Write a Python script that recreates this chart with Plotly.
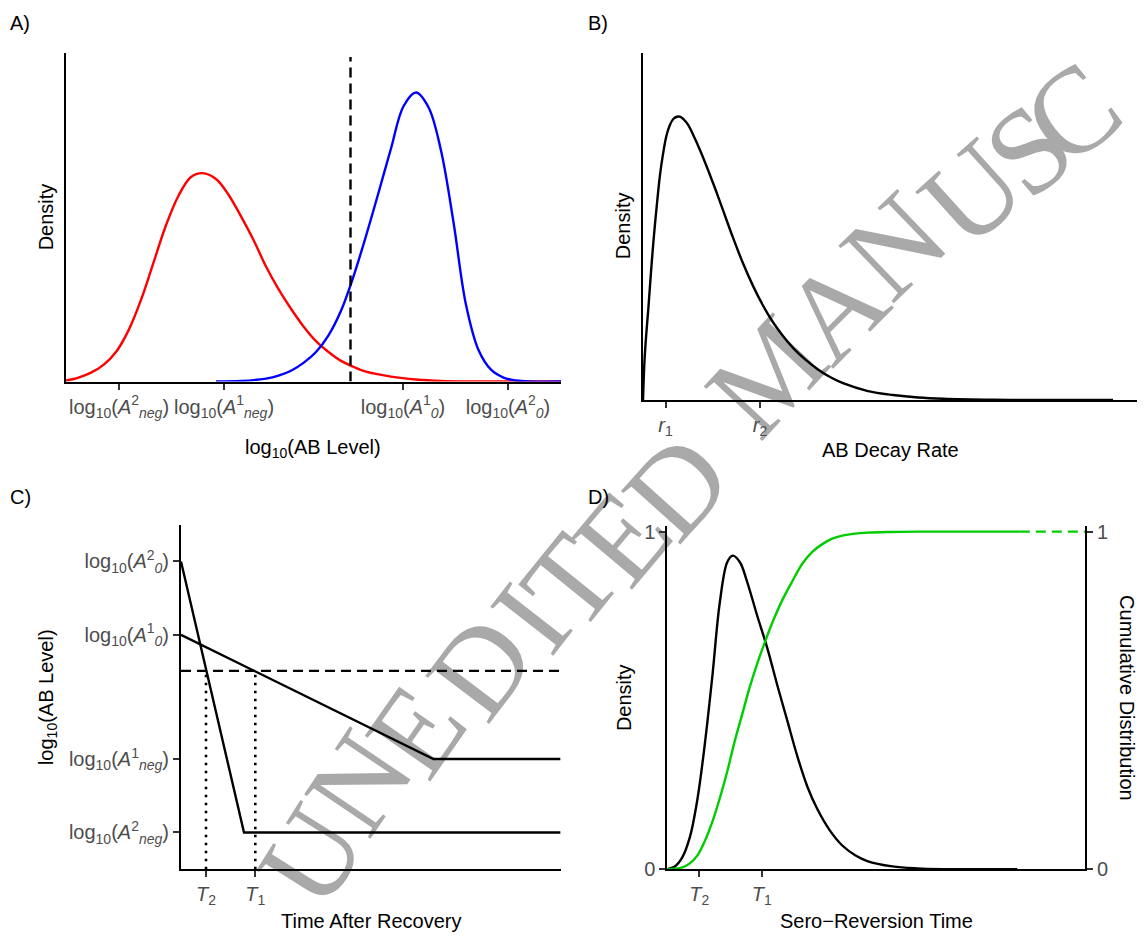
import plotly.graph_objects as go

W, H = 1144, 946
FONT = "Liberation Sans, Arial, Helvetica, sans-serif"
SERIF = "Liberation Serif, Times New Roman, serif"
TICKCOL = "#4D4D4D"

# ---------------- Panel A data ----------------
A_RED_X = [0, 0.25, 0.5, 0.75, 1.0, 1.25, 1.5, 1.75, 2.0, 2.25, 2.5, 2.73, 3.0, 3.25, 3.5, 3.75,
           4.0, 4.25, 4.5, 4.75, 5.0, 5.25, 5.5, 5.75, 6.0, 6.5, 7.0, 7.5, 8.0, 9.9]
A_RED_Y = [0.01, 0.04, 0.09, 0.17, 0.30, 0.52, 0.83, 1.21, 1.59, 1.89, 2.08, 2.12, 2.06, 1.90, 1.68, 1.44,
           1.17, 0.94, 0.74, 0.56, 0.41, 0.30, 0.21, 0.15, 0.10, 0.05, 0.02, 0.005, 0, 0]
A_BLUE_X = [3.0, 3.5, 4.0, 4.25, 4.5, 4.75, 5.0, 5.25, 5.5, 5.75, 6.0, 6.25, 6.5, 6.75, 7.0,
            7.25, 7.5, 7.75, 8.0, 8.25, 8.5, 8.75, 9.0, 9.25, 9.9]
A_BLUE_Y = [0, 0.005, 0.03, 0.06, 0.11, 0.19, 0.30, 0.47, 0.72, 1.07, 1.48, 1.92, 2.37, 2.80, 2.94,
            2.79, 2.35, 1.62, 0.78, 0.32, 0.12, 0.04, 0.01, 0, 0]
A_CUTOFF_X = 5.69
A_CUTOFF_TOP = 3.30
A_TICK_X = [1.06, 3.16, 6.74, 8.84]
A_TICK_TEXT = [
    "log<sub>10</sub>(<i>A</i><sup>2</sup><sub><i>neg</i></sub>)",
    "log<sub>10</sub>(<i>A</i><sup>1</sup><sub><i>neg</i></sub>)",
    "log<sub>10</sub>(<i>A</i><sup>1</sup><sub><i>0</i></sub>)",
    "log<sub>10</sub>(<i>A</i><sup>2</sup><sub><i>0</i></sub>)",
]

# ---------------- Panel B data ----------------
B_X = [0, 0.03, 0.07, 0.11, 0.16, 0.21, 0.28, 0.34, 0.40, 0.47, 0.54, 0.61, 0.68, 0.75, 0.82, 0.90,
       1.0, 1.15, 1.3, 1.45, 1.6, 1.8, 2.0, 2.2, 2.4, 2.6, 2.8, 3.0, 3.25, 3.5, 3.75, 4.0, 4.5,
       5.0, 5.5, 6.0, 7.0, 8.0, 9.4]
B_Y = [0, 0.40, 0.70, 0.95, 1.30, 1.62, 2.00, 2.29, 2.50, 2.69, 2.80, 2.86, 2.88, 2.88, 2.85, 2.80,
       2.70, 2.53, 2.34, 2.14, 1.93, 1.65, 1.39, 1.16, 0.96, 0.79, 0.65, 0.53, 0.41, 0.31, 0.23, 0.17, 0.09,
       0.05, 0.025, 0.012, 0.002, 0, 0]
B_TICK_X = [0.45, 2.34]
B_TICK_TEXT = ["<i>r</i><sub>1</sub>", "<i>r</i><sub>2</sub>"]

# ---------------- Panel C data ----------------
C_LINE1_X = [0, 5.05, 7.59]
C_LINE1_Y = [2.383, 1.12, 1.12]
C_LINE2_X = [0, 1.26, 7.59]
C_LINE2_Y = [3.13, 0.373, 0.373]
C_CUTOFF_Y = 2.017
C_T = [0.50, 1.486]
C_YTICK = [3.13, 2.383, 1.12, 0.373]
C_YTICK_TEXT = [
    "log<sub>10</sub>(<i>A</i><sup>2</sup><sub><i>0</i></sub>)",
    "log<sub>10</sub>(<i>A</i><sup>1</sup><sub><i>0</i></sub>)",
    "log<sub>10</sub>(<i>A</i><sup>1</sup><sub><i>neg</i></sub>)",
    "log<sub>10</sub>(<i>A</i><sup>2</sup><sub><i>neg</i></sub>)",
]
C_XTICK_TEXT = ["<i>T</i><sub>2</sub>", "<i>T</i><sub>1</sub>"]

# ---------------- Panel D data ----------------
D_DENS_X = [0, 0.15, 0.3, 0.45, 0.6, 0.75, 0.9, 1.05, 1.2, 1.31, 1.45, 1.6, 1.8, 2.0, 2.2, 2.4, 2.6,
            2.8, 3.0, 3.25, 3.5, 3.75, 4.0, 4.5, 5.0, 5.5, 7.0]
D_DENS_Y = [0, 0.008, 0.035, 0.094, 0.205, 0.37, 0.57, 0.79, 0.91, 0.929, 0.91, 0.85, 0.75, 0.655, 0.545,
            0.44, 0.335, 0.245, 0.178, 0.115, 0.07, 0.042, 0.024, 0.008, 0.002, 0, 0]
D_CDF_X = [0, 0.15, 0.3, 0.45, 0.6, 0.75, 0.9, 1.05, 1.2, 1.35, 1.5, 1.65, 1.8, 1.95, 2.1, 2.3, 2.5,
           2.7, 2.9, 3.1, 3.3, 3.5, 3.75, 4.0, 4.5, 5.0, 7.05]
D_CDF_Y = [0, 0.001, 0.005, 0.017, 0.04, 0.083, 0.14, 0.21, 0.29, 0.38, 0.46, 0.54, 0.61, 0.672, 0.73,
           0.797, 0.853, 0.905, 0.94, 0.963, 0.979, 0.988, 0.994, 0.997, 0.999, 1.0, 1.0]
D_CDF_TAIL_X = [7.05, 8.35]
D_CDF_TAIL_Y = [1.0, 1.0]
D_XTICK = [0.64, 1.89]
D_XTICK_TEXT = ["<i>T</i><sub>2</sub>", "<i>T</i><sub>1</sub>"]
D_YTICK = [0, 1]
D_YTICK_TEXT = ["0", "1"]

# ---------------- watermark letters (char, centre px x, centre px y, angle) ----------------
WATERMARK = [
    ("U", 300, 858, -58), ("N", 348, 783, -56), ("E", 405, 730, -55),
    ("D", 470, 665, -53), ("I", 520, 615, -52), ("T", 560, 578, -51), ("E", 612, 533, -50),
    ("D", 667, 481, -48), ("M", 757, 368, -47), ("A", 825, 300, -45), ("N", 885, 235, -44),
    ("U", 963, 181, -42), ("S", 1020, 137, -40), ("C", 1064, 99, -38),
]


def fx(p):
    return p / W


def fy(p):
    return 1 - p / H


fig = go.Figure()

LW = 2.4


def line(x, y, xa, ya, color="black", dash="solid", width=LW, spline=False):
    fig.add_trace(go.Scatter(
        x=x, y=y, xaxis=xa, yaxis=ya, mode="lines",
        line=dict(color=color, width=width, dash=dash,
                  shape="spline" if spline else "linear", smoothing=1.0),
        hoverinfo="skip", showlegend=False, cliponaxis=False))


# Panel A
line(A_RED_X, A_RED_Y, "x", "y", color="#FF0000", spline=True)
line(A_BLUE_X, A_BLUE_Y, "x", "y", color="#0000FF", spline=True)
line([A_CUTOFF_X, A_CUTOFF_X], [0, A_CUTOFF_TOP], "x", "y", dash="10px,6px")

# Panel B
line(B_X, B_Y, "x2", "y2", spline=True)

# Panel C
line(C_LINE1_X, C_LINE1_Y, "x3", "y3")
line(C_LINE2_X, C_LINE2_Y, "x3", "y3")
line([0, 7.59], [C_CUTOFF_Y, C_CUTOFF_Y], "x3", "y3", dash="10px,6px")
for t in C_T:
    line([t, t], [0, C_CUTOFF_Y], "x3", "y3", dash="2.5px,5.5px", width=2.6)

# Panel D
line(D_DENS_X, D_DENS_Y, "x4", "y4", spline=True)
line(D_CDF_X, D_CDF_Y, "x4", "y5", color="#00CD00", spline=True)
line(D_CDF_TAIL_X, D_CDF_TAIL_Y, "x4", "y5", color="#00CD00", dash="10px,6px")

tickfont = dict(family=FONT, size=20, color=TICKCOL)
common = dict(showgrid=False, zeroline=False, showline=True, linecolor="black",
              linewidth=2, ticklen=6, tickwidth=2,
              tickcolor="#333333", tickfont=tickfont, fixedrange=True)

fig.update_layout(
    width=W, height=H, autosize=False,
    margin=dict(l=0, r=0, t=0, b=0),
    paper_bgcolor="white", plot_bgcolor="rgba(0,0,0,0)",
    font=dict(family=FONT, size=20, color="black"),
    showlegend=False,
    xaxis=dict(domain=[fx(66), fx(561)], range=[0, 9.9], anchor="y", ticks="outside",
               tickmode="array", tickvals=A_TICK_X, ticktext=A_TICK_TEXT, **common),
    yaxis=dict(domain=[fy(383), fy(49)], range=[0, 3.34], anchor="x", ticks="",
               showticklabels=False, **common),
    xaxis2=dict(domain=[fx(643), fx(1137)], range=[0, 9.88], anchor="y2", ticks="outside",
                tickmode="array", tickvals=B_TICK_X, ticktext=B_TICK_TEXT, **common),
    yaxis2=dict(domain=[fy(401.7), fy(49)], range=[0, 3.527], anchor="x2", ticks="",
                showticklabels=False, **common),
    xaxis3=dict(domain=[fx(181), fx(560.7)], range=[0, 7.594], anchor="y3", ticks="outside",
                tickmode="array", tickvals=C_T, ticktext=C_XTICK_TEXT, **common),
    yaxis3=dict(domain=[fy(879), fy(529.3)], range=[0, 3.497], anchor="x3", ticks="outside",
                tickmode="array", tickvals=C_YTICK, ticktext=C_YTICK_TEXT, **common),
    xaxis4=dict(domain=[fx(667.3), fx(1085)], range=[0, 8.354], anchor="y4", ticks="outside",
                tickmode="array", tickvals=D_XTICK, ticktext=D_XTICK_TEXT, **common),
    yaxis4=dict(domain=[fy(879), fy(530)], range=[0, 1.0166], anchor="x4", ticks="outside",
                tickmode="array", tickvals=D_YTICK, ticktext=D_YTICK_TEXT, **common),
    yaxis5=dict(domain=[fy(879), fy(530)], range=[0, 1.0166], anchor="x4", ticks="outside",
                overlaying="y4", side="right",
                tickmode="array", tickvals=D_YTICK, ticktext=D_YTICK_TEXT, **common),
)

# watermark drawn beneath the data (shape labels on the lower layer)
shapes = []
for ch, cx, cy, ang in WATERMARK:
    shapes.append(dict(
        type="rect", xref="paper", yref="paper", layer="below",
        x0=fx(cx - 1), x1=fx(cx + 1), y0=fy(cy + 1), y1=fy(cy - 1),
        line=dict(width=0), fillcolor="rgba(0,0,0,0)",
        label=dict(text=ch, textangle=ang, textposition="middle center",
                   font=dict(family=SERIF, size=122, color="#A9A9A9"))))
fig.update_layout(shapes=shapes)

ann = []


def text(s, x, y, angle=0, xanchor="center", size=20):
    ann.append(dict(text=s, x=fx(x), y=fy(y), xref="paper", yref="paper",
                    showarrow=False, textangle=angle, xanchor=xanchor,
                    yanchor="middle", font=dict(family=FONT, size=size, color="black")))


# panel tags
text("A)", 8, 18, xanchor="left")
text("B)", 586, 18, xanchor="left")
text("C)", 8, 500, xanchor="left")
text("D)", 586, 500, xanchor="left")

# axis titles
text("log<sub>10</sub>(AB Level)", 313, 451)
text("Density", 46, 216, angle=-90)
text("AB Decay Rate", 890, 453)
text("Density", 623, 225, angle=-90)
text("log<sub>10</sub>(AB Level)", 47, 704, angle=-90)
text("Time After Recovery", 371, 932)
text("Density", 624, 705, angle=-90)
text("Sero\u2212Reversion Time", 876, 932)
text("Cumulative Distribution", 1127, 705, angle=90)

fig.update_layout(annotations=ann)

fig.write_html(
    "out.html",
    config={"displayModeBar": False, "staticPlot": True},
    post_script="document.body.style.margin='0';document.body.style.padding='0';"
                "document.body.style.overflow='hidden';",
)
